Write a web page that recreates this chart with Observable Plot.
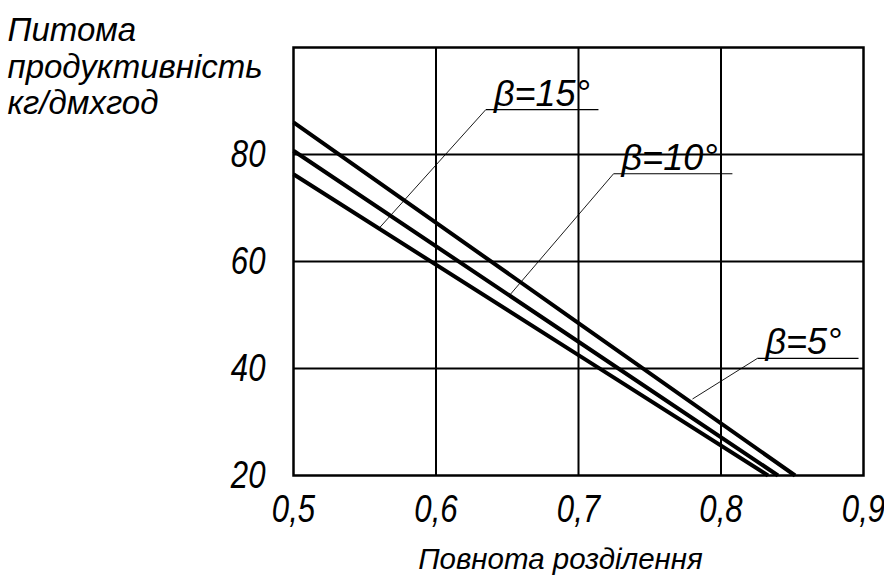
<!DOCTYPE html>
<html>
<head>
<meta charset="utf-8">
<script src="https://cdn.jsdelivr.net/npm/d3@7"></script>
<script src="https://cdn.jsdelivr.net/npm/@observablehq/plot@0.6"></script>
<style>
  html, body { margin: 0; padding: 0; background: #fff; }
</style>
</head>
<body>
<div id="chart"></div>
<script>
// Tick values
const xTicks = [0.5, 0.6, 0.7, 0.8, 0.9];
const yTicks = [20, 40, 60, 80];
const xGrid = [0.6, 0.7, 0.8];
const yGrid = [40, 60, 80];

// Series
const seriesNames = ["β=5°", "β=10°", "β=15°"];
const x5 = [0.5, 0.7, 0.852],  y5 = [86.0, 48.5, 20];
const x10 = [0.5, 0.7, 0.840], y10 = [80.7, 45.0, 20];
const x15 = [0.5, 0.7, 0.833], y15 = [76.3, 42.5, 20];

// Annotation leaders (data units): point on curve, shelf start/end, shelf level
const leaderX = [0.780, 0.652, 0.560];
const leaderY = [34.3, 53.8, 66.2];
const shelfX1 = [0.8256, 0.7246, 0.635];
const shelfX2 = [0.8965, 0.808, 0.714];
const shelfY = [41.9, 76.4, 88.4];

const yTitle = "Питома\nпродуктивність\nкг/дмхгод";
const xTitle = "Повнота розділення";

const lineData = [];
[[x5, y5], [x10, y10], [x15, y15]].forEach(([xs, ys], i) => {
  xs.forEach((x, j) => lineData.push({series: seriesNames[i], x, y: ys[j]}));
});
const notes = seriesNames.map((name, i) => ({
  name, lx: leaderX[i], ly: leaderY[i], sx1: shelfX1[i], sx2: shelfX2[i], sy: shelfY[i]
}));

const font = "'Liberation Sans', 'DejaVu Sans', sans-serif";

const chart = Plot.plot({
  width: 884,
  height: 576,
  marginLeft: 293,
  marginRight: 21,
  marginTop: 47,
  marginBottom: 101,
  style: {fontFamily: font, fontStyle: "italic", background: "white", color: "black", overflow: "visible"},
  x: {domain: [0.5, 0.9]},
  y: {domain: [20, 100]},
  marks: [
    Plot.ruleX(xGrid, {stroke: "black", strokeWidth: 2}),
    Plot.ruleY(yGrid, {stroke: "black", strokeWidth: 2}),
    Plot.frame({stroke: "black", strokeWidth: 2.5}),
    Plot.line(lineData, {x: "x", y: "y", z: "series", stroke: "black", strokeWidth: 4, strokeLinecap: "butt"}),
    Plot.link(notes, {x1: "lx", y1: "ly", x2: "sx1", y2: "sy", stroke: "black", strokeWidth: 0.9}),
    Plot.link(notes, {x1: "sx1", y1: "sy", x2: "sx2", y2: "sy", stroke: "black", strokeWidth: 1.2}),
    Plot.text(notes, {x: "sx1", y: "sy", text: "name", textAnchor: "start", lineAnchor: "bottom",
      dx: 8, dy: -4, fontSize: 36, fontStyle: "italic", fill: "black"}),
    Plot.axisX({ticks: xTicks, tickSize: 0, tickPadding: 20, fontSize: 38, label: null,
      tickFormat: d => d.toFixed(1).replace(".", ",")}),
    Plot.axisY({ticks: yTicks, tickSize: 0, tickPadding: 28, fontSize: 38, label: null}),
    Plot.text([yTitle], {frameAnchor: "top-left", text: d => d, textAnchor: "start", lineAnchor: "top",
      dx: -286, dy: -32, fontSize: 33, lineHeight: 1.1, fontStyle: "italic", fill: "black"}),
    Plot.text([xTitle], {frameAnchor: "bottom", text: d => d, lineAnchor: "bottom",
      dx: -18, dy: 93, fontSize: 29.5, fontStyle: "italic", fill: "black"})
  ]
});
// Condense the tick labels horizontally (drawing-style narrow digits)
d3.select(chart).selectAll('g[aria-label="x-axis tick label"] text, g[aria-label="y-axis tick label"] text')
  .each(function() {
    const t = this.getAttribute("transform") || "";
    this.setAttribute("transform", (t + " scale(0.82,1)").trim());
  });
document.getElementById("chart").appendChild(chart);
</script>
</body>
</html>
